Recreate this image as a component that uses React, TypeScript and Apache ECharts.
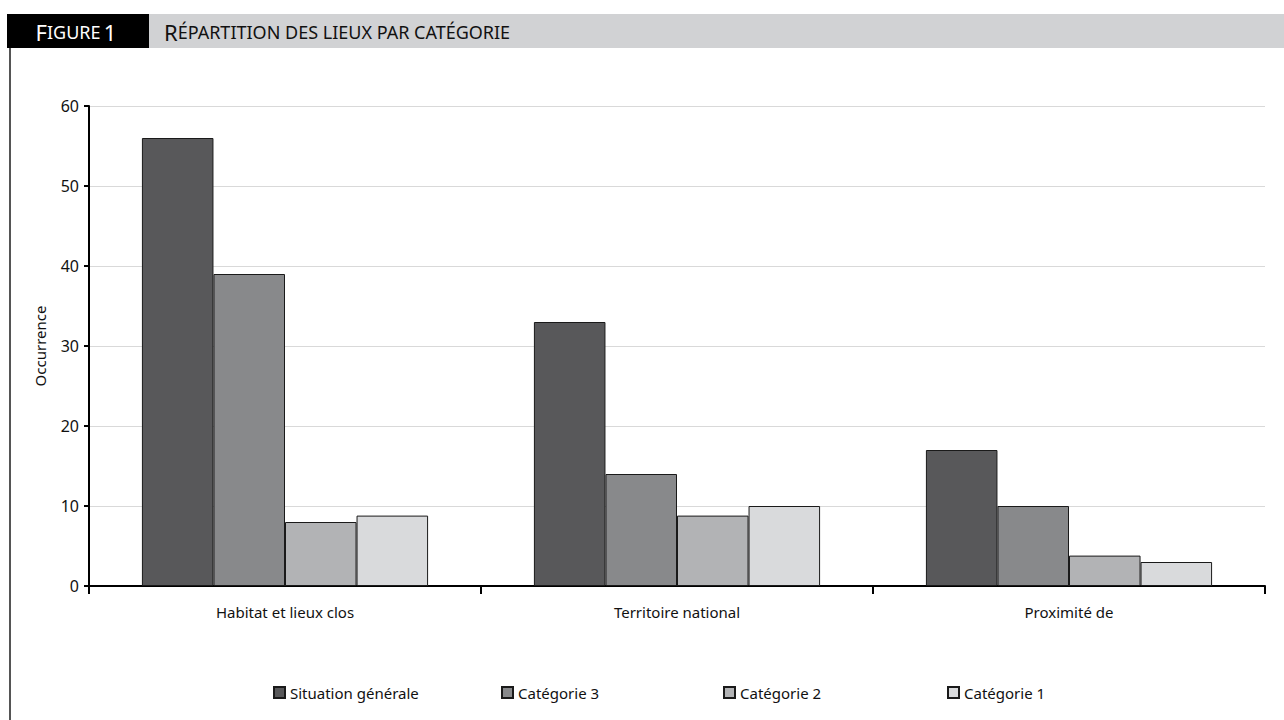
import React, { useEffect, useRef } from "react";
import * as echarts from "echarts";

const categories = ["Habitat et lieux clos", "Territoire national", "Proximité de"];
const seriesNames = ["Situation générale", "Catégorie 3", "Catégorie 2", "Catégorie 1"];
const situationGenerale = [56, 33, 17];
const categorie3 = [39, 14, 10];
const categorie2 = [8, 8.8, 3.8];
const categorie1 = [8.8, 10, 3];
const yTicks = [0, 10, 20, 30, 40, 50, 60];
const seriesColors = ["#58585a", "#88898b", "#b2b3b5", "#d9dadc"];
const legendLefts = [268, 496, 718, 942];

const FONT = "'Noto Sans', 'Open Sans', sans-serif";

export default function App() {
  const ref = useRef<HTMLDivElement>(null);
  useEffect(() => {
    document.body.style.margin = "0";
    if (!ref.current) return;
    const chart = echarts.init(ref.current, null, { renderer: "svg" });
    const values = [situationGenerale, categorie3, categorie2, categorie1];
    chart.setOption({
      animation: false,
      backgroundColor: "#ffffff",
      textStyle: { fontFamily: FONT },
      graphic: [
        { type: "rect", shape: { x: 149, y: 14, width: 1135, height: 34 }, style: { fill: "#d1d2d4" } },
        { type: "rect", shape: { x: 7, y: 14, width: 142, height: 34 }, style: { fill: "#000000" } },
        { type: "line", shape: { x1: 10, y1: 48, x2: 10, y2: 720 }, style: { stroke: "#555555", lineWidth: 2 } },
        {
          type: "text",
          x: 76,
          y: 32,
          style: {
            text: "{b|F}{s|IGURE} {b|1}",
            align: "center",
            verticalAlign: "middle",
            rich: {
              b: { fontSize: 22, fill: "#ffffff", fontFamily: FONT },
              s: { fontSize: 18, fill: "#ffffff", fontFamily: FONT },
            },
          },
        },
        {
          type: "text",
          x: 164,
          y: 32,
          style: {
            text: "{b|R}{s|ÉPARTITION DES LIEUX PAR CATÉGORIE}",
            verticalAlign: "middle",
            rich: {
              b: { fontSize: 22, fill: "#111111", fontFamily: FONT },
              s: { fontSize: 18, fill: "#111111", fontFamily: FONT },
            },
          },
        },
      ],
      legend: seriesNames.map((n, i) => ({
        left: legendLefts[i],
        top: 680,
        data: [n],
        icon: "rect",
        itemWidth: 11,
        itemHeight: 11,
        itemGap: 6,
        textStyle: { fontSize: 15, color: "#111", fontFamily: FONT },
      })),
      grid: { left: 89, right: 19, top: 106, bottom: 134 },
      xAxis: {
        type: "category",
        data: categories,
        axisLine: { lineStyle: { color: "#000", width: 2 } },
        axisTick: { show: true, length: 8, lineStyle: { color: "#000", width: 2 } },
        axisLabel: { fontSize: 15, color: "#111", margin: 18, fontFamily: FONT },
      },
      yAxis: {
        type: "value",
        min: 0,
        max: 60,
        interval: 10,
        name: "Occurrence",
        nameLocation: "middle",
        nameRotate: 90,
        nameGap: 42,
        nameTextStyle: { fontSize: 15, color: "#111", fontFamily: FONT },
        axisLine: { show: true, lineStyle: { color: "#000", width: 2 } },
        axisTick: { show: true, length: 5, lineStyle: { color: "#000", width: 2 } },
        axisLabel: {
          fontSize: 16,
          color: "#111",
          margin: 10,
          fontFamily: FONT,
          formatter: (v: number) => (yTicks.includes(v) ? String(v) : ""),
        },
        splitLine: { show: true, lineStyle: { color: "#d9d9d9", width: 1 } },
      },
      series: seriesNames.map((n, i) => ({
        name: n,
        type: "bar",
        data: values[i],
        barGap: "0%",
        barCategoryGap: "27%",
        itemStyle: { color: seriesColors[i], borderColor: "#1a1a1a", borderWidth: 1 },
      })),
    });
    return () => chart.dispose();
  }, []);
  return <div ref={ref} style={{ width: 1284, height: 720 }} />;
}
